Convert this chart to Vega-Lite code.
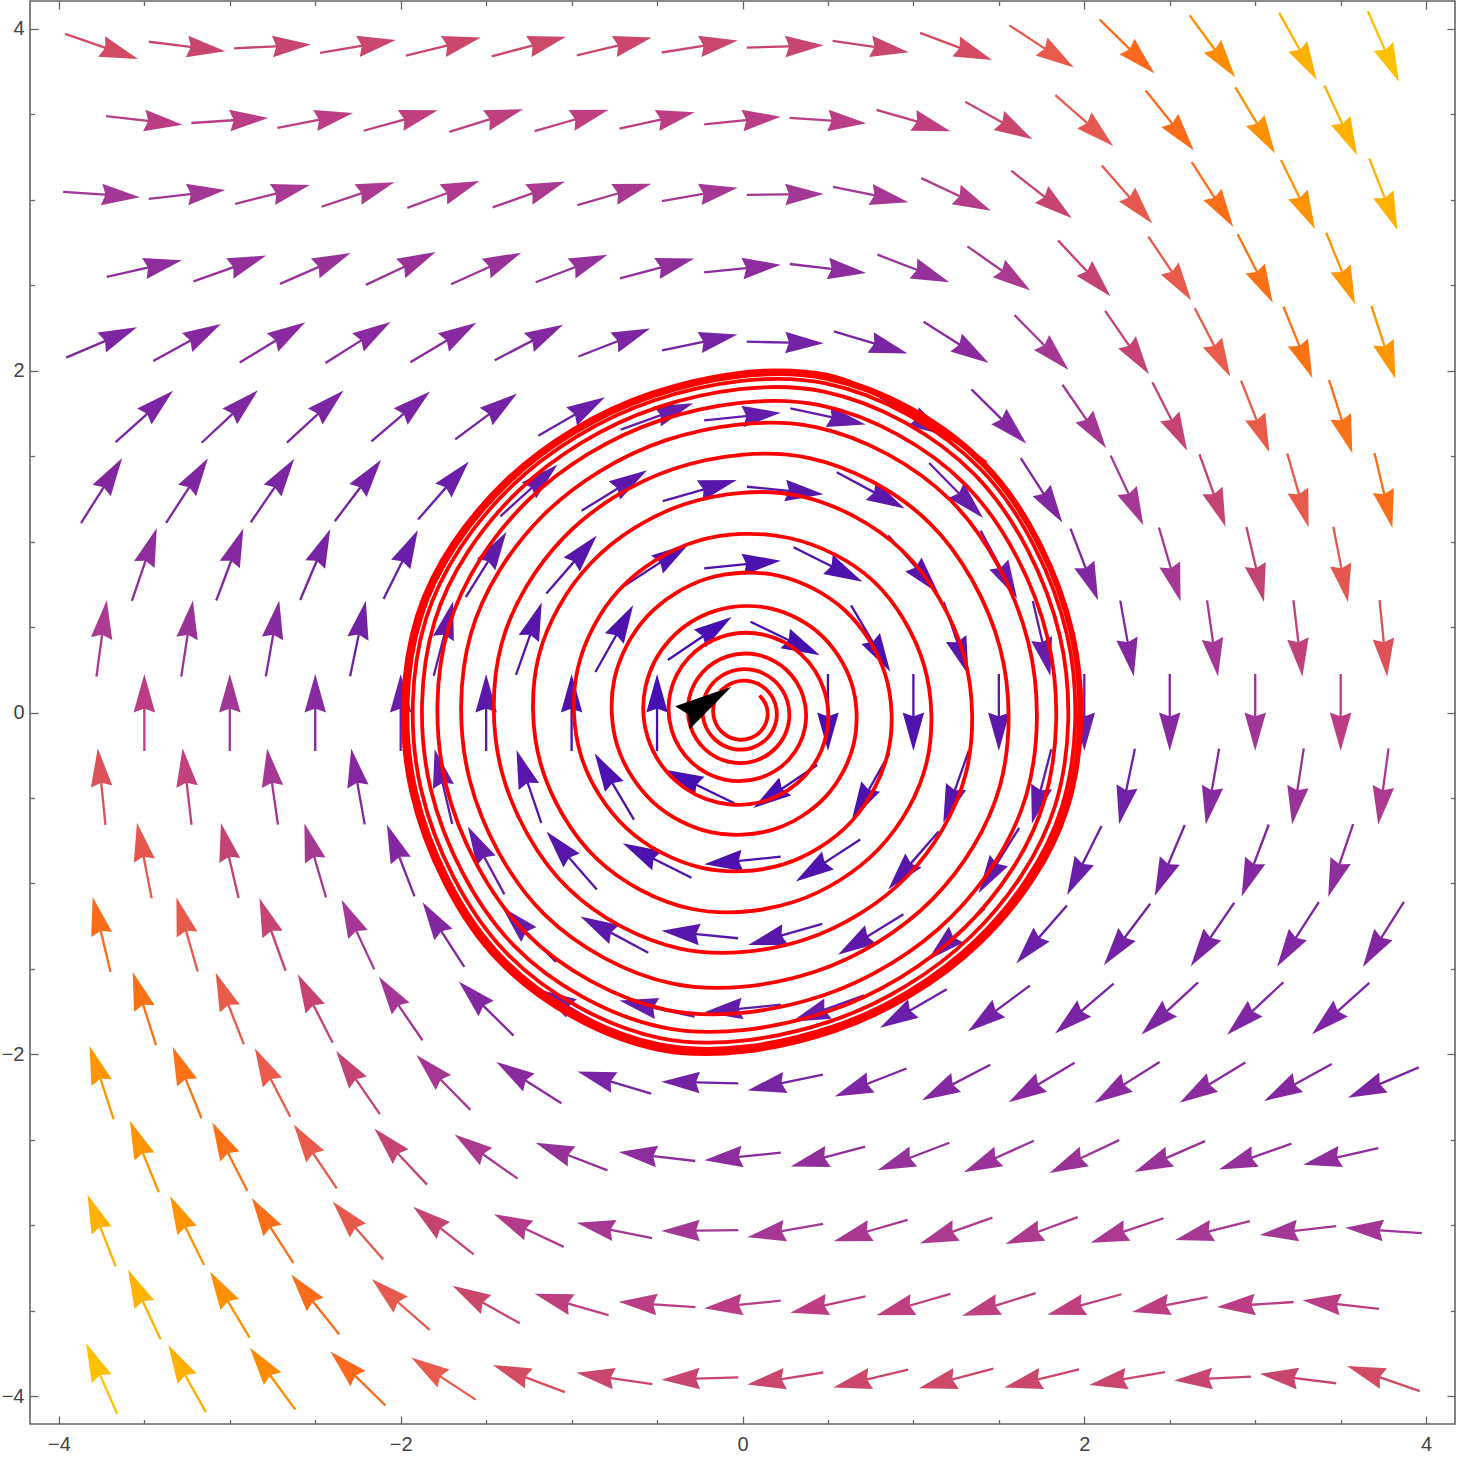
{
"$schema": "https://vega.github.io/schema/vega-lite/v6.json",
"width": 1425, "height": 1423,
"autosize": {"type": "none"},
"padding": {"left": 30, "top": 1, "right": 4, "bottom": 33},
"background": "white",
"config": {"view": {"stroke": "#666666", "strokeWidth": 1.6}},
"datasets": {
"arrows": [
{"x":-3.75,"y":3.897,"a":109.0,"m":4.121},{"x":-3.25,"y":3.897,"a":97.0,"m":3.926},{"x":-2.75,"y":3.897,"a":87.2,"m":3.902},{"x":-2.25,"y":3.897,"a":80.3,"m":3.954},{"x":-1.75,"y":3.897,"a":76.4,"m":4.010},{"x":-1.25,"y":3.897,"a":75.2,"m":4.031},{"x":-0.75,"y":3.897,"a":76.7,"m":4.004},{"x":-0.25,"y":3.897,"a":81.0,"m":3.945},{"x":0.25,"y":3.897,"a":88.3,"m":3.899},{"x":0.75,"y":3.897,"a":98.5,"m":3.940},{"x":1.25,"y":3.897,"a":110.7,"m":4.165},{"x":1.75,"y":3.897,"a":123.2,"m":4.659},{"x":2.25,"y":3.897,"a":134.5,"m":5.466},{"x":2.75,"y":3.897,"a":143.7,"m":6.585},{"x":3.25,"y":3.897,"a":150.8,"m":7.991},{"x":3.75,"y":3.897,"a":156.2,"m":9.661},
{"x":-3.5,"y":3.464,"a":96.5,"m":3.487},{"x":-3,"y":3.464,"a":86.2,"m":3.472},{"x":-2.5,"y":3.464,"a":78.9,"m":3.531},{"x":-2,"y":3.464,"a":74.5,"m":3.595},{"x":-1.5,"y":3.464,"a":72.9,"m":3.625},{"x":-1,"y":3.464,"a":73.9,"m":3.606},{"x":-0.5,"y":3.464,"a":77.6,"m":3.546},{"x":0,"y":3.464,"a":84.3,"m":3.481},{"x":0.5,"y":3.464,"a":94.0,"m":3.472},{"x":1,"y":3.464,"a":106.1,"m":3.606},{"x":1.5,"y":3.464,"a":119.2,"m":3.967},{"x":2,"y":3.464,"a":131.3,"m":4.608},{"x":2.5,"y":3.464,"a":141.3,"m":5.536},{"x":3,"y":3.464,"a":149.0,"m":6.731},{"x":3.5,"y":3.464,"a":154.9,"m":8.168},
{"x":-3.75,"y":3.031,"a":94.0,"m":3.038},{"x":-3.25,"y":3.031,"a":83.4,"m":3.051},{"x":-2.75,"y":3.031,"a":75.9,"m":3.125},{"x":-2.25,"y":3.031,"a":71.4,"m":3.198},{"x":-1.75,"y":3.031,"a":69.6,"m":3.233},{"x":-1.25,"y":3.031,"a":70.4,"m":3.217},{"x":-0.75,"y":3.031,"a":73.8,"m":3.157},{"x":-0.25,"y":3.031,"a":80.0,"m":3.078},{"x":0.25,"y":3.031,"a":89.4,"m":3.031},{"x":0.75,"y":3.031,"a":101.5,"m":3.093},{"x":1.25,"y":3.031,"a":115.1,"m":3.348},{"x":1.75,"y":3.031,"a":128.1,"m":3.851},{"x":2.25,"y":3.031,"a":139.0,"m":4.616},{"x":2.75,"y":3.031,"a":147.4,"m":5.626},{"x":3.25,"y":3.031,"a":153.8,"m":6.855},{"x":3.75,"y":3.031,"a":158.5,"m":8.284},
{"x":-3.5,"y":2.598,"a":77.5,"m":2.661},{"x":-3,"y":2.598,"a":70.5,"m":2.757},{"x":-2.5,"y":2.598,"a":66.4,"m":2.836},{"x":-2,"y":2.598,"a":64.8,"m":2.870},{"x":-1.5,"y":2.598,"a":65.7,"m":2.852},{"x":-1,"y":2.598,"a":69.0,"m":2.784},{"x":-0.5,"y":2.598,"a":75.0,"m":2.689},{"x":0,"y":2.598,"a":84.3,"m":2.611},{"x":0.5,"y":2.598,"a":96.7,"m":2.616},{"x":1,"y":2.598,"a":111.0,"m":2.784},{"x":1.5,"y":2.598,"a":125.1,"m":3.175},{"x":2,"y":2.598,"a":136.9,"m":3.805},{"x":2.5,"y":2.598,"a":146.1,"m":4.656},{"x":3,"y":2.598,"a":152.9,"m":5.704},{"x":3.5,"y":2.598,"a":158.0,"m":6.928},
{"x":-3.75,"y":2.165,"a":66.9,"m":2.353},{"x":-3.25,"y":2.165,"a":61.4,"m":2.466},{"x":-2.75,"y":2.165,"a":58.5,"m":2.541},{"x":-2.25,"y":2.165,"a":57.7,"m":2.562},{"x":-1.75,"y":2.165,"a":59.0,"m":2.527},{"x":-1.25,"y":2.165,"a":62.5,"m":2.441},{"x":-0.75,"y":2.165,"a":68.7,"m":2.324},{"x":-0.25,"y":2.165,"a":78.2,"m":2.212},{"x":0.25,"y":2.165,"a":91.2,"m":2.166},{"x":0.75,"y":2.165,"a":106.8,"m":2.262},{"x":1.25,"y":2.165,"a":122.4,"m":2.563},{"x":1.75,"y":2.165,"a":135.4,"m":3.084},{"x":2.25,"y":2.165,"a":145.3,"m":3.805},{"x":2.75,"y":2.165,"a":152.6,"m":4.699},{"x":3.25,"y":2.165,"a":157.9,"m":5.744},{"x":3.75,"y":2.165,"a":161.8,"m":6.925},
{"x":-3.5,"y":1.732,"a":48.2,"m":2.329},{"x":-3,"y":1.732,"a":47.0,"m":2.368},{"x":-2.5,"y":1.732,"a":47.4,"m":2.352},{"x":-2,"y":1.732,"a":49.5,"m":2.279},{"x":-1.5,"y":1.732,"a":53.5,"m":2.156},{"x":-1,"y":1.732,"a":60.0,"m":2.0},{"x":-0.5,"y":1.732,"a":70.0,"m":1.843},{"x":0,"y":1.732,"a":84.3,"m":1.741},{"x":0.5,"y":1.732,"a":102.1,"m":1.771},{"x":1,"y":1.732,"a":120.0,"m":2.0},{"x":1.5,"y":1.732,"a":134.7,"m":2.439},{"x":2,"y":1.732,"a":145.5,"m":3.058},{"x":2.5,"y":1.732,"a":153.1,"m":3.824},{"x":3,"y":1.732,"a":158.5,"m":4.716},{"x":3.5,"y":1.732,"a":162.4,"m":5.717},
{"x":-3.75,"y":1.299,"a":32.3,"m":2.430},{"x":-3.25,"y":1.299,"a":32.9,"m":2.391},{"x":-2.75,"y":1.299,"a":34.4,"m":2.300},{"x":-2.25,"y":1.299,"a":37.0,"m":2.157},{"x":-1.75,"y":1.299,"a":41.2,"m":1.971},{"x":-1.25,"y":1.299,"a":47.8,"m":1.753},{"x":-0.75,"y":1.299,"a":58.2,"m":1.529},{"x":-0.25,"y":1.299,"a":74.0,"m":1.351},{"x":0.25,"y":1.299,"a":95.6,"m":1.305},{"x":0.75,"y":1.299,"a":118.1,"m":1.472},{"x":1.25,"y":1.299,"a":135.5,"m":1.854},{"x":1.75,"y":1.299,"a":147.2,"m":2.400},{"x":2.25,"y":1.299,"a":154.9,"m":3.066},{"x":2.75,"y":1.299,"a":160.2,"m":3.830},{"x":3.25,"y":1.299,"a":163.9,"m":4.676},{"x":3.75,"y":1.299,"a":166.6,"m":5.600},
{"x":-3.5,"y":0.866,"a":18.9,"m":2.670},{"x":-3,"y":0.866,"a":20.6,"m":2.464},{"x":-2.5,"y":0.866,"a":23.0,"m":2.221},{"x":-2,"y":0.866,"a":26.5,"m":1.944},{"x":-1.5,"y":0.866,"a":31.9,"m":1.639},{"x":-1,"y":0.866,"a":40.9,"m":1.323},{"x":-0.5,"y":0.866,"a":56.9,"m":1.034},{"x":0,"y":0.866,"a":84.3,"m":0.870},{"x":0.5,"y":0.866,"a":116.7,"m":0.969},{"x":1,"y":0.866,"a":139.1,"m":1.323},{"x":1.5,"y":0.866,"a":151.7,"m":1.827},{"x":2,"y":0.866,"a":159.0,"m":2.420},{"x":2.5,"y":0.866,"a":163.7,"m":3.079},{"x":3,"y":0.866,"a":166.8,"m":3.793},{"x":3.5,"y":0.866,"a":169.0,"m":4.557},
{"x":-3.75,"y":0.433,"a":7.7,"m":3.214},{"x":-3.25,"y":0.433,"a":8.7,"m":2.869},{"x":-2.75,"y":0.433,"a":10.0,"m":2.504},{"x":-2.25,"y":0.433,"a":11.8,"m":2.119},{"x":-1.75,"y":0.433,"a":14.6,"m":1.716},{"x":-1.25,"y":0.433,"a":19.5,"m":1.300},{"x":-0.75,"y":0.433,"a":29.4,"m":0.882},{"x":-0.25,"y":0.433,"a":56.1,"m":0.521},{"x":0.25,"y":0.433,"a":115.8,"m":0.481},{"x":0.75,"y":0.433,"a":149.4,"m":0.850},{"x":1.25,"y":0.433,"a":161.2,"m":1.346},{"x":1.75,"y":0.433,"a":166.8,"m":1.890},{"x":2.25,"y":0.433,"a":169.9,"m":2.464},{"x":2.75,"y":0.433,"a":171.9,"m":3.065},{"x":3.25,"y":0.433,"a":173.3,"m":3.690},{"x":3.75,"y":0.433,"a":174.3,"m":4.337},
{"x":-3.5,"y":0,"a":0,"m":3.5},{"x":-3,"y":0,"a":0,"m":3.0},{"x":-2.5,"y":0,"a":0,"m":2.5},{"x":-2,"y":0,"a":0,"m":2.0},{"x":-1.5,"y":0,"a":0,"m":1.5},{"x":-1,"y":0,"a":0,"m":1.0},{"x":-0.5,"y":0,"a":0,"m":0.5},{"x":0.5,"y":0,"a":180,"m":0.5},{"x":1,"y":0,"a":180,"m":1.0},{"x":1.5,"y":0,"a":180,"m":1.5},{"x":2,"y":0,"a":180,"m":2.0},{"x":2.5,"y":0,"a":180,"m":2.5},{"x":3,"y":0,"a":180,"m":3.0},{"x":3.5,"y":0,"a":180,"m":3.5},
{"x":3.75,"y":-0.433,"a":187.7,"m":3.214},{"x":3.25,"y":-0.433,"a":188.7,"m":2.869},{"x":2.75,"y":-0.433,"a":190.0,"m":2.504},{"x":2.25,"y":-0.433,"a":191.8,"m":2.119},{"x":1.75,"y":-0.433,"a":194.6,"m":1.716},{"x":1.25,"y":-0.433,"a":199.5,"m":1.300},{"x":0.75,"y":-0.433,"a":209.4,"m":0.882},{"x":0.25,"y":-0.433,"a":236.1,"m":0.521},{"x":-0.25,"y":-0.433,"a":295.8,"m":0.481},{"x":-0.75,"y":-0.433,"a":329.4,"m":0.850},{"x":-1.25,"y":-0.433,"a":341.2,"m":1.346},{"x":-1.75,"y":-0.433,"a":346.8,"m":1.890},{"x":-2.25,"y":-0.433,"a":349.9,"m":2.464},{"x":-2.75,"y":-0.433,"a":351.9,"m":3.065},{"x":-3.25,"y":-0.433,"a":353.3,"m":3.690},{"x":-3.75,"y":-0.433,"a":354.3,"m":4.337},
{"x":3.5,"y":-0.866,"a":198.9,"m":2.670},{"x":3,"y":-0.866,"a":200.6,"m":2.464},{"x":2.5,"y":-0.866,"a":203.0,"m":2.221},{"x":2,"y":-0.866,"a":206.5,"m":1.944},{"x":1.5,"y":-0.866,"a":211.9,"m":1.639},{"x":1,"y":-0.866,"a":220.9,"m":1.323},{"x":0.5,"y":-0.866,"a":236.9,"m":1.034},{"x":0,"y":-0.866,"a":264.3,"m":0.870},{"x":-0.5,"y":-0.866,"a":296.7,"m":0.969},{"x":-1,"y":-0.866,"a":319.1,"m":1.323},{"x":-1.5,"y":-0.866,"a":331.7,"m":1.827},{"x":-2,"y":-0.866,"a":339.0,"m":2.420},{"x":-2.5,"y":-0.866,"a":343.7,"m":3.079},{"x":-3,"y":-0.866,"a":346.8,"m":3.793},{"x":-3.5,"y":-0.866,"a":349.0,"m":4.557},
{"x":3.75,"y":-1.299,"a":212.3,"m":2.430},{"x":3.25,"y":-1.299,"a":212.9,"m":2.391},{"x":2.75,"y":-1.299,"a":214.4,"m":2.300},{"x":2.25,"y":-1.299,"a":217.0,"m":2.157},{"x":1.75,"y":-1.299,"a":221.2,"m":1.971},{"x":1.25,"y":-1.299,"a":227.8,"m":1.753},{"x":0.75,"y":-1.299,"a":238.2,"m":1.529},{"x":0.25,"y":-1.299,"a":254.0,"m":1.351},{"x":-0.25,"y":-1.299,"a":275.6,"m":1.305},{"x":-0.75,"y":-1.299,"a":298.1,"m":1.472},{"x":-1.25,"y":-1.299,"a":315.5,"m":1.854},{"x":-1.75,"y":-1.299,"a":327.2,"m":2.400},{"x":-2.25,"y":-1.299,"a":334.9,"m":3.066},{"x":-2.75,"y":-1.299,"a":340.2,"m":3.830},{"x":-3.25,"y":-1.299,"a":343.9,"m":4.676},{"x":-3.75,"y":-1.299,"a":346.6,"m":5.600},
{"x":3.5,"y":-1.732,"a":228.2,"m":2.329},{"x":3,"y":-1.732,"a":227.0,"m":2.368},{"x":2.5,"y":-1.732,"a":227.4,"m":2.352},{"x":2,"y":-1.732,"a":229.5,"m":2.279},{"x":1.5,"y":-1.732,"a":233.5,"m":2.156},{"x":1,"y":-1.732,"a":240.0,"m":2.0},{"x":0.5,"y":-1.732,"a":250.0,"m":1.843},{"x":0,"y":-1.732,"a":264.3,"m":1.741},{"x":-0.5,"y":-1.732,"a":282.1,"m":1.771},{"x":-1,"y":-1.732,"a":300.0,"m":2.0},{"x":-1.5,"y":-1.732,"a":314.7,"m":2.439},{"x":-2,"y":-1.732,"a":325.5,"m":3.058},{"x":-2.5,"y":-1.732,"a":333.1,"m":3.824},{"x":-3,"y":-1.732,"a":338.5,"m":4.716},{"x":-3.5,"y":-1.732,"a":342.4,"m":5.717},
{"x":3.75,"y":-2.165,"a":246.9,"m":2.353},{"x":3.25,"y":-2.165,"a":241.4,"m":2.466},{"x":2.75,"y":-2.165,"a":238.5,"m":2.541},{"x":2.25,"y":-2.165,"a":237.7,"m":2.562},{"x":1.75,"y":-2.165,"a":239.0,"m":2.527},{"x":1.25,"y":-2.165,"a":242.5,"m":2.441},{"x":0.75,"y":-2.165,"a":248.7,"m":2.324},{"x":0.25,"y":-2.165,"a":258.2,"m":2.212},{"x":-0.25,"y":-2.165,"a":271.2,"m":2.166},{"x":-0.75,"y":-2.165,"a":286.8,"m":2.262},{"x":-1.25,"y":-2.165,"a":302.4,"m":2.563},{"x":-1.75,"y":-2.165,"a":315.4,"m":3.084},{"x":-2.25,"y":-2.165,"a":325.3,"m":3.805},{"x":-2.75,"y":-2.165,"a":332.6,"m":4.699},{"x":-3.25,"y":-2.165,"a":337.9,"m":5.744},{"x":-3.75,"y":-2.165,"a":341.8,"m":6.925},
{"x":3.5,"y":-2.598,"a":257.5,"m":2.661},{"x":3,"y":-2.598,"a":250.5,"m":2.757},{"x":2.5,"y":-2.598,"a":246.4,"m":2.836},{"x":2,"y":-2.598,"a":244.8,"m":2.870},{"x":1.5,"y":-2.598,"a":245.7,"m":2.852},{"x":1,"y":-2.598,"a":249.0,"m":2.784},{"x":0.5,"y":-2.598,"a":255.0,"m":2.689},{"x":0,"y":-2.598,"a":264.3,"m":2.611},{"x":-0.5,"y":-2.598,"a":276.7,"m":2.616},{"x":-1,"y":-2.598,"a":291.0,"m":2.784},{"x":-1.5,"y":-2.598,"a":305.1,"m":3.175},{"x":-2,"y":-2.598,"a":316.9,"m":3.805},{"x":-2.5,"y":-2.598,"a":326.1,"m":4.656},{"x":-3,"y":-2.598,"a":332.9,"m":5.704},{"x":-3.5,"y":-2.598,"a":338.0,"m":6.928},
{"x":3.75,"y":-3.031,"a":274.0,"m":3.038},{"x":3.25,"y":-3.031,"a":263.4,"m":3.051},{"x":2.75,"y":-3.031,"a":255.9,"m":3.125},{"x":2.25,"y":-3.031,"a":251.4,"m":3.198},{"x":1.75,"y":-3.031,"a":249.6,"m":3.233},{"x":1.25,"y":-3.031,"a":250.4,"m":3.217},{"x":0.75,"y":-3.031,"a":253.8,"m":3.157},{"x":0.25,"y":-3.031,"a":260.0,"m":3.078},{"x":-0.25,"y":-3.031,"a":269.4,"m":3.031},{"x":-0.75,"y":-3.031,"a":281.5,"m":3.093},{"x":-1.25,"y":-3.031,"a":295.1,"m":3.348},{"x":-1.75,"y":-3.031,"a":308.1,"m":3.851},{"x":-2.25,"y":-3.031,"a":319.0,"m":4.616},{"x":-2.75,"y":-3.031,"a":327.4,"m":5.626},{"x":-3.25,"y":-3.031,"a":333.8,"m":6.855},{"x":-3.75,"y":-3.031,"a":338.5,"m":8.284},
{"x":3.5,"y":-3.464,"a":276.5,"m":3.487},{"x":3,"y":-3.464,"a":266.2,"m":3.472},{"x":2.5,"y":-3.464,"a":258.9,"m":3.531},{"x":2,"y":-3.464,"a":254.5,"m":3.595},{"x":1.5,"y":-3.464,"a":252.9,"m":3.625},{"x":1,"y":-3.464,"a":253.9,"m":3.606},{"x":0.5,"y":-3.464,"a":257.6,"m":3.546},{"x":0,"y":-3.464,"a":264.3,"m":3.481},{"x":-0.5,"y":-3.464,"a":274.0,"m":3.472},{"x":-1,"y":-3.464,"a":286.1,"m":3.606},{"x":-1.5,"y":-3.464,"a":299.2,"m":3.967},{"x":-2,"y":-3.464,"a":311.3,"m":4.608},{"x":-2.5,"y":-3.464,"a":321.3,"m":5.536},{"x":-3,"y":-3.464,"a":329.0,"m":6.731},{"x":-3.5,"y":-3.464,"a":334.9,"m":8.168},
{"x":3.75,"y":-3.897,"a":289.0,"m":4.121},{"x":3.25,"y":-3.897,"a":277.0,"m":3.926},{"x":2.75,"y":-3.897,"a":267.2,"m":3.902},{"x":2.25,"y":-3.897,"a":260.3,"m":3.954},{"x":1.75,"y":-3.897,"a":256.4,"m":4.010},{"x":1.25,"y":-3.897,"a":255.2,"m":4.031},{"x":0.75,"y":-3.897,"a":256.7,"m":4.004},{"x":0.25,"y":-3.897,"a":261.0,"m":3.945},{"x":-0.25,"y":-3.897,"a":268.3,"m":3.899},{"x":-0.75,"y":-3.897,"a":278.5,"m":3.940},{"x":-1.25,"y":-3.897,"a":290.7,"m":4.165},{"x":-1.75,"y":-3.897,"a":303.2,"m":4.659},{"x":-2.25,"y":-3.897,"a":314.5,"m":5.466},{"x":-2.75,"y":-3.897,"a":323.7,"m":6.585},{"x":-3.25,"y":-3.897,"a":330.8,"m":7.991},{"x":-3.75,"y":-3.897,"a":336.2,"m":9.661}
],
"path": [
{"i":0,"x":0.1,"y":0.1},{"i":1,"x":0.1402,"y":0.0376},{"i":2,"x":0.1439,"y":-0.0386},{"i":3,"x":0.1081,"y":-0.1081},{"i":4,"x":0.0406,"y":-0.1516},{"i":5,"x":-0.0417,"y":-0.1556},{"i":6,"x":-0.1169,"y":-0.1169},{"i":7,"x":-0.1639,"y":-0.0439},{"i":8,"x":-0.1682,"y":0.0451},{"i":9,"x":-0.1264,"y":0.1264},{"i":10,"x":-0.0475,"y":0.1772},{"i":11,"x":0.0487,"y":0.1818},
{"i":12,"x":0.1366,"y":0.1366},{"i":13,"x":0.1915,"y":0.0513},{"i":14,"x":0.1965,"y":-0.0527},{"i":15,"x":0.1477,"y":-0.1477},{"i":16,"x":0.0555,"y":-0.207},{"i":17,"x":-0.0569,"y":-0.2124},{"i":18,"x":-0.1596,"y":-0.1596},{"i":19,"x":-0.2237,"y":-0.0599},{"i":20,"x":-0.2295,"y":0.0615},{"i":21,"x":-0.1724,"y":0.1724},{"i":22,"x":-0.0648,"y":0.2417},{"i":23,"x":0.0664,"y":0.248},
{"i":24,"x":0.1863,"y":0.1863},{"i":25,"x":0.2611,"y":0.07},{"i":26,"x":0.2679,"y":-0.0718},{"i":27,"x":0.2012,"y":-0.2012},{"i":28,"x":0.0755,"y":-0.282},{"i":29,"x":-0.0775,"y":-0.2893},{"i":30,"x":-0.2173,"y":-0.2173},{"i":31,"x":-0.3045,"y":-0.0816},{"i":32,"x":-0.3123,"y":0.0837},{"i":33,"x":-0.2345,"y":0.2345},{"i":34,"x":-0.0881,"y":0.3286},{"i":35,"x":0.0903,"y":0.3371},
{"i":36,"x":0.2531,"y":0.2531},{"i":37,"x":0.3546,"y":0.095},{"i":38,"x":0.3637,"y":-0.0974},{"i":39,"x":0.273,"y":-0.273},{"i":40,"x":0.1025,"y":-0.3825},{"i":41,"x":-0.1051,"y":-0.3922},{"i":42,"x":-0.2944,"y":-0.2944},{"i":43,"x":-0.4124,"y":-0.1105},{"i":44,"x":-0.4228,"y":0.1133},{"i":45,"x":-0.3173,"y":0.3173},{"i":46,"x":-0.1191,"y":0.4443},{"i":47,"x":0.122,"y":0.4555},
{"i":48,"x":0.3418,"y":0.3418},{"i":49,"x":0.4785,"y":0.1282},{"i":50,"x":0.4904,"y":-0.1314},{"i":51,"x":0.3679,"y":-0.3679},{"i":52,"x":0.138,"y":-0.5149},{"i":53,"x":-0.1414,"y":-0.5276},{"i":54,"x":-0.3957,"y":-0.3957},{"i":55,"x":-0.5536,"y":-0.1483},{"i":56,"x":-0.5671,"y":0.1519},{"i":57,"x":-0.4252,"y":0.4252},{"i":58,"x":-0.1594,"y":0.5947},{"i":59,"x":0.1632,"y":0.609},
{"i":60,"x":0.4564,"y":0.4564},{"i":61,"x":0.6382,"y":0.171},{"i":62,"x":0.6532,"y":-0.175},{"i":63,"x":0.4894,"y":-0.4894},{"i":64,"x":0.1833,"y":-0.684},{"i":65,"x":-0.1875,"y":-0.6998},{"i":66,"x":-0.524,"y":-0.524},{"i":67,"x":-0.7321,"y":-0.1962},{"i":68,"x":-0.7487,"y":0.2006},{"i":69,"x":-0.5604,"y":0.5604},{"i":70,"x":-0.2096,"y":0.7825},{"i":71,"x":0.2143,"y":0.7997},
{"i":72,"x":0.5982,"y":0.5982},{"i":73,"x":0.8348,"y":0.2237},{"i":74,"x":0.8527,"y":-0.2285},{"i":75,"x":0.6375,"y":-0.6375},{"i":76,"x":0.2382,"y":-0.889},{"i":77,"x":-0.2431,"y":-0.9075},{"i":78,"x":-0.6779,"y":-0.6779},{"i":79,"x":-0.9448,"y":-0.2531},{"i":80,"x":-0.9637,"y":0.2582},{"i":81,"x":-0.7194,"y":0.7194},{"i":82,"x":-0.2684,"y":1.0018},{"i":83,"x":0.2736,"y":1.021},
{"i":84,"x":0.7644,"y":0.7699},{"i":85,"x":1.0626,"y":0.2751},{"i":86,"x":1.076,"y":-0.2983},{"i":87,"x":0.8009,"y":-0.7944},{"i":88,"x":0.303,"y":-1.1077},{"i":89,"x":-0.3012,"y":-1.1483},{"i":90,"x":-0.8507,"y":-0.8583},{"i":91,"x":-1.1803,"y":-0.3032},{"i":92,"x":-1.1914,"y":0.333},{"i":93,"x":-0.885,"y":0.8762},{"i":94,"x":-0.3353,"y":1.2203},{"i":95,"x":0.331,"y":1.2677},
{"i":96,"x":0.9363,"y":0.9464},{"i":97,"x":1.2962,"y":0.3301},{"i":98,"x":1.304,"y":-0.3674},{"i":99,"x":0.9664,"y":-0.9549},{"i":100,"x":0.3667,"y":-1.3282},{"i":101,"x":-0.3593,"y":-1.3829},{"i":102,"x":-1.0182,"y":-1.0311},{"i":103,"x":-1.4062,"y":-0.3548},{"i":104,"x":-1.4098,"y":0.4005},{"i":105,"x":-1.0424,"y":1.0279},{"i":106,"x":-0.3961,"y":1.428},{"i":107,"x":0.3853,"y":1.4901},
{"i":108,"x":1.0936,"y":1.1096},{"i":109,"x":1.5071,"y":0.3768},{"i":110,"x":1.5058,"y":-0.4312},{"i":111,"x":1.1108,"y":-1.0933},{"i":112,"x":0.4227,"y":-1.517},{"i":113,"x":-0.4083,"y":-1.5864},{"i":114,"x":-1.1607,"y":-1.1798},{"i":115,"x":-1.5961,"y":-0.3956},{"i":116,"x":-1.5897,"y":0.4587},{"i":117,"x":-1.1703,"y":1.1497},{"i":118,"x":-0.446,"y":1.5937},{"i":119,"x":0.4279,"y":1.6698},
{"i":120,"x":1.2185,"y":1.2405},{"i":121,"x":1.6721,"y":0.4113},{"i":122,"x":1.6606,"y":-0.4824},{"i":123,"x":1.2203,"y":-1.1969},{"i":124,"x":0.4656,"y":-1.6576},{"i":125,"x":-0.4443,"y":-1.7398},{"i":126,"x":-1.2664,"y":-1.2911},{"i":127,"x":-1.7351,"y":-0.4239},{"i":128,"x":-1.7189,"y":0.5022},{"i":129,"x":-1.2612,"y":1.2353},{"i":130,"x":-0.4817,"y":1.7095},{"i":131,"x":0.4574,"y":1.7968},
{"i":132,"x":1.3054,"y":1.3323},{"i":133,"x":1.7859,"y":0.4339},{"i":134,"x":1.7656,"y":-0.5183},{"i":135,"x":1.2937,"y":-1.2658},{"i":136,"x":0.4945,"y":-1.7506},{"i":137,"x":-0.4678,"y":-1.8422},{"i":138,"x":-1.3361,"y":-1.365},{"i":139,"x":-1.8259,"y":-0.4416},{"i":140,"x":-1.8022,"y":0.5309},{"i":141,"x":-1.3192,"y":1.2895},{"i":142,"x":-0.5046,"y":1.7826},{"i":143,"x":0.4759,"y":1.8777},
{"i":144,"x":1.36,"y":1.3904},{"i":145,"x":1.8569,"y":0.4475},{"i":146,"x":1.8305,"y":-0.5409},{"i":147,"x":1.3388,"y":-1.3077},{"i":148,"x":0.5123,"y":-1.807},{"i":149,"x":-0.482,"y":-1.9048},{"i":150,"x":-1.3783,"y":-1.4099},{"i":151,"x":-1.8805,"y":-0.4519},{"i":152,"x":-1.8519,"y":0.5484},{"i":153,"x":-1.3536,"y":1.3215},{"i":154,"x":-0.5182,"y":1.8256},{"i":155,"x":0.4867,"y":1.9254},
{"i":156,"x":1.3922,"y":1.4247},{"i":157,"x":1.8985,"y":0.4553},{"i":158,"x":1.8681,"y":-0.5541},{"i":159,"x":1.3648,"y":-1.3319},{"i":160,"x":0.5226,"y":-1.8394},{"i":161,"x":-0.4901,"y":-1.9409},{"i":162,"x":-1.4025,"y":-1.4358},{"i":163,"x":-1.9118,"y":-0.4577},{"i":164,"x":-1.8802,"y":0.5584},{"i":165,"x":-1.3731,"y":1.3396},{"i":166,"x":-0.5259,"y":1.8498},{"i":167,"x":0.4927,"y":1.9525},
{"i":168,"x":1.4103,"y":1.4441},{"i":169,"x":1.9217,"y":0.4596},{"i":170,"x":1.8892,"y":-0.5616},{"i":171,"x":1.3794,"y":-1.3453},{"i":172,"x":0.5285,"y":-1.8576},{"i":173,"x":-0.4946,"y":-1.961},{"i":174,"x":-1.416,"y":-1.4502},{"i":175,"x":-1.9291,"y":-0.4609},{"i":176,"x":-1.8958,"y":0.5641},{"i":177,"x":-1.3839,"y":1.3495},{"i":178,"x":-0.5302,"y":1.8632},{"i":179,"x":0.4961,"y":1.9674},
{"i":180,"x":1.4203,"y":1.4548},{"i":181,"x":1.9345,"y":0.4619},{"i":182,"x":1.9007,"y":-0.5658},{"i":183,"x":1.3873,"y":-1.3526},{"i":184,"x":0.5316,"y":-1.8673},{"i":185,"x":-0.497,"y":-1.972},{"i":186,"x":-1.4234,"y":-1.4581},{"i":187,"x":-1.9386,"y":-0.4625},{"i":188,"x":-1.9043,"y":0.5671},{"i":189,"x":-1.3897,"y":1.3549},{"i":190,"x":-0.5326,"y":1.8704},{"i":191,"x":0.4979,"y":1.9754},{"i":192,"x":1.4257,"y":1.4606}
],
"head": [{"x": -0.208, "y": 0.06, "a": 57.8}]
},
"layer": [
{
"data": {"name": "arrows"},
"mark": {"type": "point", "shape": "M0,-1L0.28,0L0.03,-0.09L0.03,1L-0.03,1L-0.03,-0.09L-0.28,0Z", "filled": true, "strokeWidth": 0, "size": 5929, "opacity": 1},
"encoding": {
"x": {"field": "x", "type": "quantitative", "scale": {"domain": [-4.169, 4.169], "nice": false, "zero": false},
 "axis": {"orient": "bottom", "title": null, "grid": false, "domain": false, "values": [-4,-3.5,-3,-2.5,-2,-1.5,-1,-0.5,0,0.5,1,1.5,2,2.5,3,3.5,4],
  "tickSize": {"condition": {"test": "datum.value % 2 === 0", "value": -8}, "value": -4.5},
  "tickColor": "#666666", "tickWidth": 1.3, "labelExpr": "datum.value % 2 === 0 ? format(datum.value, 'd') : ''",
  "labelFont": "Liberation Sans", "labelFontSize": 20, "labelColor": "#444444", "labelPadding": 18, "labelOverlap": false, "labelFlush": false, "labelBound": false}},
"y": {"field": "y", "type": "quantitative", "scale": {"domain": [-4.163, 4.163], "nice": false, "zero": false},
 "axis": {"orient": "left", "title": null, "grid": false, "domain": false, "values": [-4,-3.5,-3,-2.5,-2,-1.5,-1,-0.5,0,0.5,1,1.5,2,2.5,3,3.5,4],
  "tickSize": {"condition": {"test": "datum.value % 2 === 0", "value": -8}, "value": -4.5},
  "tickColor": "#666666", "tickWidth": 1.3, "labelExpr": "datum.value % 2 === 0 ? format(datum.value, 'd') : ''",
  "labelFont": "Liberation Sans", "labelFontSize": 20, "labelColor": "#444444", "labelPadding": 14, "labelOverlap": false, "labelFlush": false, "labelBound": false}},
"angle": {"field": "a", "type": "quantitative", "scale": null},
"color": {"field": "m", "type": "quantitative", "legend": null,
 "scale": {"type": "linear", "interpolate": "rgb", "clamp": true,
  "domain": [0.48, 1.0, 1.5, 2.0, 2.56, 3.0, 3.5, 3.93, 4.12, 4.34, 4.66, 5.47, 6.59, 8.0, 9.66],
  "range": ["#460fb2", "#4f12ad", "#5c18aa", "#6a1fa8", "#8a2a9e", "#a03796", "#bc3d84", "#c8466e", "#d24b64", "#dc5258", "#e85a4c", "#fb6a1c", "#ff8c00", "#ffb000", "#ffc000"]}}
}
},
{
"data": {"name": "path"},
"mark": {"type": "line", "color": "#ff0000", "strokeWidth": 3.8, "interpolate": "catmull-rom"},
"encoding": {
"x": {"field": "x", "type": "quantitative", "scale": {"domain": [-4.169, 4.169], "nice": false, "zero": false},
 "axis": {"orient": "top", "title": null, "grid": false, "domain": false, "labels": false, "values": [-4,-3.5,-3,-2.5,-2,-1.5,-1,-0.5,0,0.5,1,1.5,2,2.5,3,3.5,4],
  "tickSize": {"condition": {"test": "datum.value % 2 === 0", "value": -8}, "value": -4.5}, "tickColor": "#666666", "tickWidth": 1.3}},
"y": {"field": "y", "type": "quantitative", "scale": {"domain": [-4.163, 4.163], "nice": false, "zero": false},
 "axis": {"orient": "right", "title": null, "grid": false, "domain": false, "labels": false, "values": [-4,-3.5,-3,-2.5,-2,-1.5,-1,-0.5,0,0.5,1,1.5,2,2.5,3,3.5,4],
  "tickSize": {"condition": {"test": "datum.value % 2 === 0", "value": -8}, "value": -4.5}, "tickColor": "#666666", "tickWidth": 1.3}},
"order": {"field": "i", "type": "quantitative"}
}
},
{
"data": {"name": "head"},
"mark": {"type": "point", "shape": "M0,-1L0.47,1L0,0.77L-0.47,1Z", "filled": true, "color": "#000000", "strokeWidth": 0, "size": 3364, "opacity": 1},
"encoding": {
"x": {"field": "x", "type": "quantitative", "scale": {"domain": [-4.169, 4.169], "nice": false, "zero": false}, "axis": null},
"y": {"field": "y", "type": "quantitative", "scale": {"domain": [-4.163, 4.163], "nice": false, "zero": false}, "axis": null},
"angle": {"field": "a", "type": "quantitative", "scale": null}
}
}
],
"resolve": {"axis": {"x": "independent", "y": "independent"}}
}
